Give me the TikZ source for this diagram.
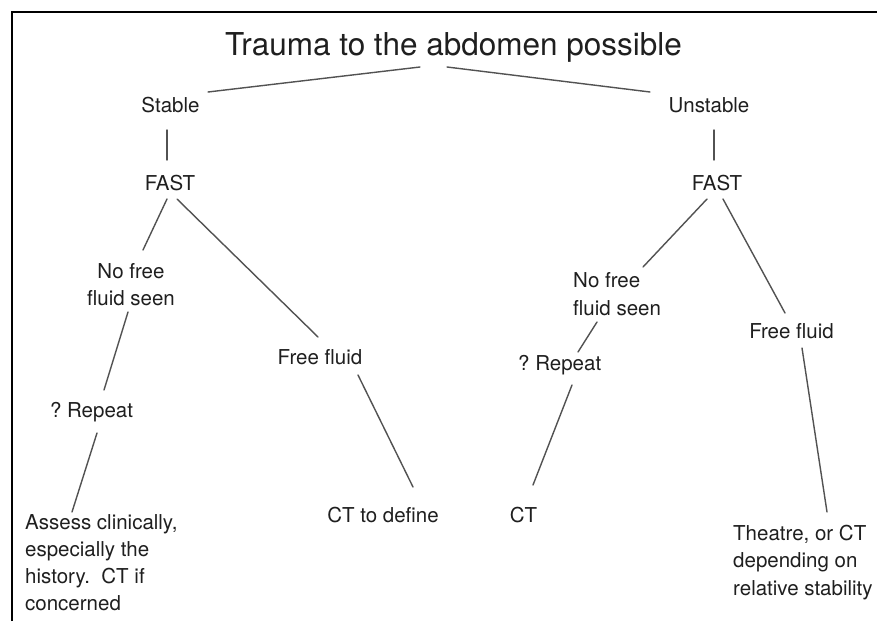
\documentclass[tikz,border=0pt]{standalone}
\usepackage{fontspec}
\setmainfont{TeX Gyre Heros}
\usetikzlibrary{calc}
\frenchspacing
\begin{document}
\begin{tikzpicture}[x=1pt,y=-1pt,
  lbl/.style={inner sep=0pt,text=black!88,font=\fontsize{20.5}{27.5}\selectfont},
  ttl/.style={inner sep=0pt,text=black!88,font=\fontsize{31.5}{36}\selectfont},
  conn/.style={draw=black!68,line width=1.4pt,line cap=round}]
\useasboundingbox (0,0) rectangle (877,621);
\fill[white] (0,0) rectangle (877,621);
\draw[line width=2pt,black] (12,621) -- (12,12) -- (877,12);

\node[ttl,anchor=base] (title) at (453.5,55) {Trauma to the abdomen possible};
\node[lbl,anchor=base] (stable) at (170.5,112) {Stable};
\node[lbl,anchor=base] (unstable) at (709,112) {Unstable};
\node[lbl,anchor=base] (fastL) at (170,190) {FAST};
\node[lbl,anchor=base] (fastR) at (717,190) {FAST};
\node[lbl,anchor=base,align=center] (nffL) at (131,305.5) {No free\\fluid seen};
\node[lbl,anchor=base] (ffL) at (320,364) {Free fluid};
\node[lbl,anchor=base] (repL) at (91.5,417) {? Repeat};
\node[lbl,anchor=base west,align=left,font=\fontsize{20.5}{26.7}\selectfont] (assess) at (25,610) {Assess clinically,\\especially the\\history.\ \ CT if\\concerned};
\node[lbl,anchor=base] (ctdef) at (383,522) {CT to define};
\node[lbl,anchor=base west,align=left] (nffR) at (573,315) {No free\\fluid seen};
\node[lbl,anchor=base] (ffR) at (791.5,338) {Free fluid};
\node[lbl,anchor=base west] (repR) at (518,370) {? Repeat};
\node[lbl,anchor=base] (ctR) at (523.5,522) {CT};
\node[lbl,anchor=base west,align=left] (theatre) at (733,595) {Theatre, or CT\\depending on\\relative stability};

\draw[conn] ($(stable.base)+(37.5,-20)$) -- ($(title.base)+(-33.5,12)$);
\draw[conn] ($(title.base)+(-6.5,12)$) -- ($(unstable.base)+(-59,-20)$);
\draw[conn] ($(stable.base)+(-3.5,18)$) -- ($(fastL.base)+(-3,-30)$);
\draw[conn] ($(unstable.base)+(5,18)$) -- ($(fastR.base)+(-3,-30)$);
\draw[conn] ($(fastL.base)+(-3,9)$) -- ($(nffL.base)+(12,-55.5)$);
\draw[conn] ($(fastL.base)+(7,9)$) -- ($(ffL.base)+(-2,-27)$);
\draw[conn] ($(nffL.base)+(-3,6.5)$) -- ($(repL.base)+(12.5,-27)$);
\draw[conn] ($(repL.base)+(5.5,16)$) -- ($(assess.base west)+(47,-98)$);
\draw[conn] ($(ffL.base)+(38,11)$) -- ($(ctdef.base)+(30,-35)$);
\draw[conn] ($(fastR.base)+(-10,9)$) -- ($(nffR.base west)+(70,-48)$);
\draw[conn] ($(fastR.base)+(6,9)$) -- ($(ffR.base)+(-6.5,-25)$);
\draw[conn] ($(nffR.base west)+(24,7)$) -- ($(repR.base west)+(60,-18)$);
\draw[conn] ($(repR.base west)+(54,15)$) -- ($(ctR.base)+(9.5,-37)$);
\draw[conn] ($(ffR.base)+(10.5,10)$) -- ($(theatre.base west)+(94,-83)$);
\end{tikzpicture}
\end{document}
